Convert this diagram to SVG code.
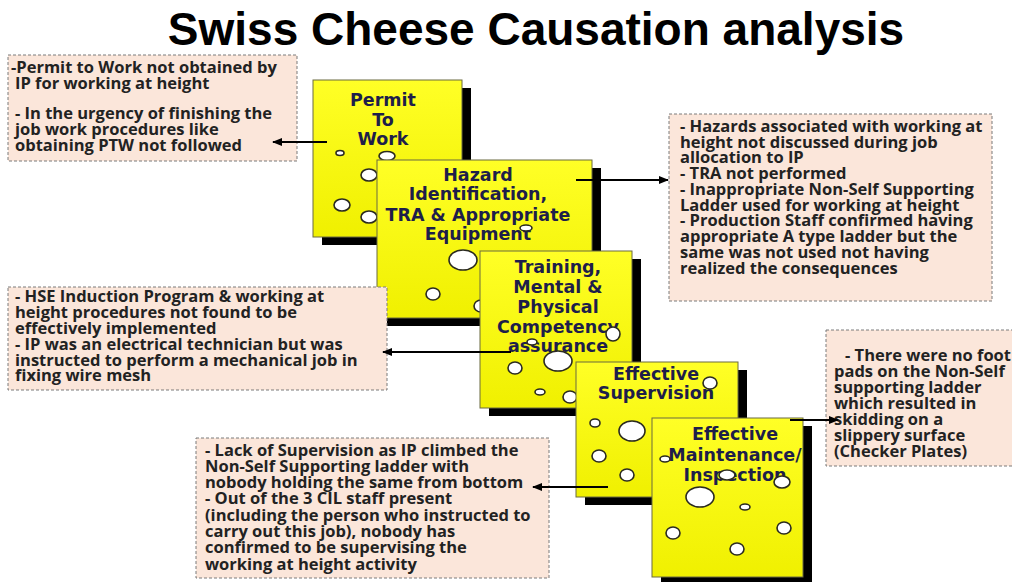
<svg xmlns="http://www.w3.org/2000/svg" width="1012" height="582" viewBox="0 0 1012 582">
  <defs>
    <linearGradient id="cheese" x1="0" y1="0" x2="0" y2="1">
      <stop offset="0" stop-color="#ffff26"/>
      <stop offset="1" stop-color="#f0f000"/>
    </linearGradient>
    <marker id="arrow" viewBox="0 0 10 8" refX="9" refY="4" markerWidth="10" markerHeight="8" markerUnits="userSpaceOnUse" orient="auto">
      <path d="M0,0 L10,4 L0,8 Z" fill="#000"/>
    </marker>
  </defs>
  <style>
    .bg { fill: #ffffff; }
    .title { font-family: "Liberation Sans", Arial, sans-serif; font-weight: bold; font-size: 46px; fill: #000; text-anchor: middle; }
    .shadow { fill: #000; }
    .slice { fill: url(#cheese); stroke: #6b6b40; stroke-width: 1; }
    .hole { fill: #ffffff; stroke: #2a2a20; stroke-width: 1.6; }
    .label { font-family: "Comic Sans MS", "DejaVu Sans", sans-serif; font-weight: bold; font-size: 17.5px; fill: #1e1e4a; text-anchor: middle; }
    .note { fill: #fbe6da; stroke: #7a7a7a; stroke-width: 1; stroke-dasharray: 3 2; }
    .txt { font-family: "Open Sans", "Liberation Sans", sans-serif; font-weight: bold; font-size: 16.5px; fill: #222; }
    .conn { stroke: #000; stroke-width: 2; fill: none; marker-end: url(#arrow); }
  </style>

  <rect class="bg" x="0" y="0" width="1012" height="582"/>

  <text class="title" x="536" y="45">Swiss Cheese Causation analysis</text>

  <!-- Cheese slices, back to front -->
  <g id="slice-permit">
    <rect class="shadow" x="322" y="88" width="149" height="157"/>
    <rect class="slice" x="313" y="80" width="149" height="157"/>
    <text class="label" x="383" y="106">Permit</text>
    <text class="label" x="383" y="126">To</text>
    <text class="label" x="383" y="145">Work</text>
    <ellipse class="hole" cx="340" cy="153" rx="4" ry="2.5"/>
    <ellipse class="hole" cx="387" cy="156" rx="8" ry="4.5"/>
    <ellipse class="hole" cx="369" cy="175" rx="8" ry="6"/>
    <ellipse class="hole" cx="342" cy="205" rx="8" ry="6"/>
    <ellipse class="hole" cx="369" cy="217" rx="8" ry="6"/>
  </g>

  <g id="slice-hazard">
    <rect class="shadow" x="386" y="168" width="215" height="158"/>
    <rect class="slice" x="377" y="160" width="215" height="158"/>
    <text class="label" x="478" y="181">Hazard</text>
    <text class="label" x="478" y="200">Identification,</text>
    <text class="label" x="478" y="221">TRA &amp; Appropriate</text>
    <text class="label" x="478" y="240">Equipment</text>
    <ellipse class="hole" cx="526" cy="228" rx="6" ry="3"/>
    <ellipse class="hole" cx="463" cy="260" rx="14" ry="10"/>
    <ellipse class="hole" cx="433" cy="294" rx="7" ry="6"/>
    <ellipse class="hole" cx="481" cy="306" rx="7" ry="6"/>
  </g>

  <g id="slice-training">
    <rect class="shadow" x="489" y="259" width="152" height="157"/>
    <rect class="slice" x="480" y="251" width="152" height="157"/>
    <text class="label" x="558" y="273">Training,</text>
    <text class="label" x="558" y="293">Mental &amp;</text>
    <text class="label" x="558" y="313">Physical</text>
    <text class="label" x="558" y="333">Competency</text>
    <text class="label" x="558" y="352">assurance</text>
    <ellipse class="hole" cx="613" cy="334" rx="7" ry="7"/>
    <ellipse class="hole" cx="532" cy="342" rx="5" ry="3"/>
    <ellipse class="hole" cx="558" cy="361" rx="14" ry="10"/>
    <ellipse class="hole" cx="515" cy="368" rx="7" ry="6"/>
    <ellipse class="hole" cx="540" cy="392" rx="5" ry="3"/>
    <ellipse class="hole" cx="570" cy="397" rx="7" ry="6"/>
  </g>

  <g id="slice-supervision">
    <rect class="shadow" x="585" y="370" width="162" height="135"/>
    <rect class="slice" x="576" y="362" width="162" height="135"/>
    <text class="label" x="656" y="380">Effective</text>
    <text class="label" x="656" y="399">Supervision</text>
    <ellipse class="hole" cx="710" cy="383" rx="7" ry="6"/>
    <ellipse class="hole" cx="595" cy="423" rx="5" ry="4"/>
    <ellipse class="hole" cx="632" cy="431" rx="13" ry="10"/>
    <ellipse class="hole" cx="599" cy="456" rx="7" ry="6"/>
    <ellipse class="hole" cx="627" cy="475" rx="7" ry="6"/>
  </g>

  <g id="slice-maintenance">
    <rect class="shadow" x="661" y="426" width="151" height="159"/>
    <rect class="slice" x="652" y="418" width="151" height="159"/>
    <text class="label" x="735" y="440">Effective</text>
    <text class="label" x="735" y="461">Maintenance/</text>
    <text class="label" x="735" y="481">Inspection</text>
    <ellipse class="hole" cx="665" cy="459" rx="5" ry="3"/>
    <ellipse class="hole" cx="727" cy="475" rx="8" ry="5"/>
    <ellipse class="hole" cx="782" cy="482" rx="8" ry="6"/>
    <ellipse class="hole" cx="700" cy="497" rx="14" ry="10"/>
    <ellipse class="hole" cx="745" cy="507" rx="5" ry="3"/>
    <ellipse class="hole" cx="673" cy="533" rx="7" ry="6"/>
    <ellipse class="hole" cx="784" cy="528" rx="7" ry="6"/>
    <ellipse class="hole" cx="737" cy="549" rx="7" ry="6"/>
  </g>

  <!-- Finding boxes -->
  <g id="note-permit">
    <rect class="note" x="8" y="55" width="289" height="106"/>
    <text class="txt" x="11" y="73">-Permit to Work not obtained by</text>
    <text class="txt" x="15" y="89">IP for working at height</text>
    <text class="txt" x="15" y="119">- In the urgency of finishing the</text>
    <text class="txt" x="15" y="135">job work procedures like</text>
    <text class="txt" x="15" y="151">obtaining PTW not followed</text>
  </g>

  <g id="note-hazard">
    <rect class="note" x="669" y="114" width="323" height="187"/>
    <text class="txt" x="680" y="132">- Hazards associated with working at</text>
    <text class="txt" x="680" y="148">height not discussed during job</text>
    <text class="txt" x="680" y="163">allocation to IP</text>
    <text class="txt" x="680" y="179">- TRA not performed</text>
    <text class="txt" x="680" y="195">- Inappropriate Non-Self Supporting</text>
    <text class="txt" x="680" y="211">Ladder used for working at height</text>
    <text class="txt" x="680" y="226">- Production Staff confirmed having</text>
    <text class="txt" x="680" y="242">appropriate A type ladder but the</text>
    <text class="txt" x="680" y="258">same was not used not having</text>
    <text class="txt" x="680" y="274">realized the consequences</text>
  </g>

  <g id="note-training">
    <rect class="note" x="8" y="287" width="379" height="103"/>
    <text class="txt" x="15" y="302">- HSE Induction Program &amp; working at</text>
    <text class="txt" x="15" y="318">height procedures not found to be</text>
    <text class="txt" x="15" y="334">effectively implemented</text>
    <text class="txt" x="15" y="350">- IP was an electrical technician but was</text>
    <text class="txt" x="15" y="366">instructed to perform a mechanical job in</text>
    <text class="txt" x="15" y="381">fixing wire mesh</text>
  </g>

  <g id="note-supervision">
    <rect class="note" x="196" y="438" width="353" height="140"/>
    <text class="txt" x="205" y="456">- Lack of Supervision as IP climbed the</text>
    <text class="txt" x="205" y="472">Non-Self Supporting ladder with</text>
    <text class="txt" x="205" y="488">nobody holding the same from bottom</text>
    <text class="txt" x="205" y="504">- Out of the 3 CIL staff present</text>
    <text class="txt" x="205" y="521">(including the person who instructed to</text>
    <text class="txt" x="205" y="537">carry out this job), nobody has</text>
    <text class="txt" x="205" y="553">confirmed to be supervising the</text>
    <text class="txt" x="205" y="570">working at height activity</text>
  </g>

  <g id="note-maintenance">
    <rect class="note" x="826" y="330" width="200" height="136"/>
    <text class="txt" x="845" y="361">- There were no foot</text>
    <text class="txt" x="834" y="377">pads on the Non-Self</text>
    <text class="txt" x="834" y="393">supporting ladder</text>
    <text class="txt" x="834" y="409">which resulted in</text>
    <text class="txt" x="834" y="425">skidding on a</text>
    <text class="txt" x="834" y="441">slippery surface</text>
    <text class="txt" x="834" y="457">(Checker Plates)</text>
  </g>

  <!-- Connectors from each slice to its findings -->
  <g id="connectors">
    <line class="conn" x1="327" y1="142" x2="273" y2="142"/>
    <line class="conn" x1="576" y1="180" x2="668" y2="180"/>
    <line class="conn" x1="511" y1="352" x2="383" y2="352"/>
    <line class="conn" x1="608" y1="487" x2="533" y2="487"/>
    <line class="conn" x1="790" y1="420" x2="838" y2="420"/>
  </g>
</svg>
